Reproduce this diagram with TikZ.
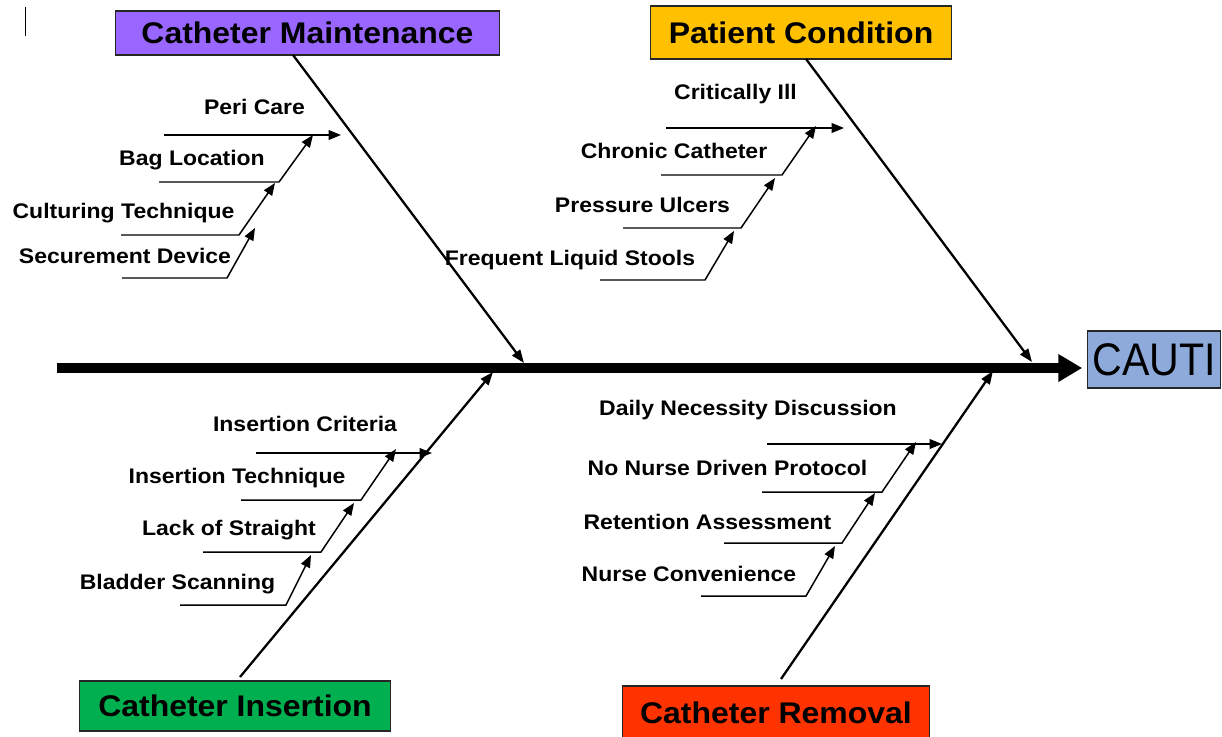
\documentclass[tikz,border=0pt]{standalone}
\usepackage{fontspec}
\setmainfont{Liberation Sans}
\newfontfamily\lblfont[FakeStretch=1.09]{Liberation Sans}
\newfontfamily\ttlfont[FakeStretch=1.07]{Liberation Sans}
\newfontfamily\cautifont[FakeStretch=0.9]{Liberation Sans}
\usetikzlibrary{arrows.meta}
\definecolor{cmpurple}{RGB}{153,102,255}
\definecolor{pcamber}{RGB}{255,192,0}
\definecolor{cigreen}{RGB}{0,176,80}
\definecolor{crred}{RGB}{255,51,0}
\definecolor{cblue}{RGB}{142,170,219}
\begin{document}
\begin{tikzpicture}[x=0.02cm,y=-0.02cm,
  catbox/.style={draw=black!85,line width=0.8pt,inner sep=0pt,
    font=\ttlfont\bfseries\fontsize{17}{19}\selectfont},
  lbl/.style={anchor=base,inner sep=0pt,font=\lblfont\bfseries\fontsize{12}{14}\selectfont},
  bone/.style={line width=1.3pt,-{Triangle[length=7.5pt,width=5.5pt]}},
  subbone/.style={line width=0.85pt,-{Triangle[length=7pt,width=5.5pt]}},
  spine/.style={line width=5.2pt,-{Triangle[length=13.6pt,width=15pt]}}
]
\useasboundingbox (0,0) rectangle (1222,736);
\begin{scope}
\clip (0,0) rectangle (1222,736);

% stray mark
\coordinate (mk1) at (25.5,7);
\coordinate (mk2) at (25.5,36);
\draw[line width=0.6pt] (mk1) -- (mk2);

% boxes
\node[catbox,fill=cmpurple,minimum width=385*0.567pt,minimum height=44*0.567pt] (cm) at (307.5,33) {Catheter Maintenance};
\node[catbox,fill=pcamber,minimum width=302*0.567pt,minimum height=53*0.567pt] (pc) at (801,32.5) {Patient Condition};
\node[catbox,fill=cigreen,minimum width=312*0.567pt,minimum height=50*0.567pt] (ci) at (235,706) {Catheter Insertion};
\node[catbox,fill=crred,minimum width=308*0.567pt,minimum height=54*0.567pt] (cr) at (776,713) {Catheter Removal};
\node[draw=black!85,line width=0.8pt,fill=cblue,inner sep=0pt,minimum width=133*0.567pt,minimum height=57*0.567pt,
  font=\cautifont\fontsize{26}{28}\selectfont] (cauti) at (1154,359.5) {CAUTI};

% spine
\coordinate (spinestart) at (57,368);
\draw[spine] (spinestart) -- (spinestart -| cauti.west) [shorten >=2.8pt];

% main bones
\coordinate (cmstart) at (293,55);  \coordinate (cmtip) at (524,363);
\coordinate (pcstart) at (806,59);  \coordinate (pctip) at (1032,362);
\coordinate (cistart) at (240,677); \coordinate (citip) at (493,372);
\coordinate (crstart) at (781,679); \coordinate (crtip) at (993,371);
\draw[bone] (cmstart) -- (cmtip);
\draw[bone] (pcstart) -- (pctip);
\draw[bone] (cistart) -- (citip);
\draw[bone] (crstart) -- (crtip);

% ---- Catheter Maintenance causes
\node[lbl] (peri) at (254.5,115) {Peri Care};
\node[lbl] (bag) at (192,166) {Bag Location};
\node[lbl] (cult) at (123.5,219) {Culturing Technique};
\node[lbl] (secu) at (125,263) {Securement Device};
\coordinate (peri-l) at (164,135); \coordinate (peri-r) at (341,135);
\coordinate (bag-l) at (159,182); \coordinate (bag-b) at (279,182); \coordinate (bag-t) at (313,135);
\coordinate (cult-l) at (121,235); \coordinate (cult-b) at (239,235); \coordinate (cult-t) at (275,183);
\coordinate (secu-l) at (122,278); \coordinate (secu-b) at (227,278); \coordinate (secu-t) at (255,228);
\draw[subbone] (peri-l) -- (peri-r);
\draw[subbone] (bag-l) -- (bag-b) -- (bag-t);
\draw[subbone] (cult-l) -- (cult-b) -- (cult-t);
\draw[subbone] (secu-l) -- (secu-b) -- (secu-t);

% ---- Patient Condition causes
\node[lbl] (crit) at (735.5,100) {Critically Ill};
\node[lbl] (chron) at (674,159) {Chronic Catheter};
\node[lbl] (press) at (642.5,213) {Pressure Ulcers};
\node[lbl] (freq) at (570,265) {Frequent Liquid Stools};
\coordinate (crit-l) at (666,128); \coordinate (crit-r) at (844,128);
\coordinate (chron-l) at (661,175); \coordinate (chron-b) at (782,175); \coordinate (chron-t) at (816,126);
\coordinate (press-l) at (623,228); \coordinate (press-b) at (741,228); \coordinate (press-t) at (775,178);
\coordinate (freq-l) at (600,280); \coordinate (freq-b) at (705,280); \coordinate (freq-t) at (734,231);
\draw[subbone] (crit-l) -- (crit-r);
\draw[subbone] (chron-l) -- (chron-b) -- (chron-t);
\draw[subbone] (press-l) -- (press-b) -- (press-t);
\draw[subbone] (freq-l) -- (freq-b) -- (freq-t);

% ---- Catheter Insertion causes
\node[lbl] (icrit) at (305,431) {Insertion Criteria};
\node[lbl] (itech) at (237,483) {Insertion Technique};
\node[lbl] (lack) at (229,535) {Lack of Straight};
\node[lbl] (blad) at (177.5,589) {Bladder Scanning};
\coordinate (icrit-l) at (256,453); \coordinate (icrit-r) at (432,453);
\coordinate (itech-l) at (241,500); \coordinate (itech-b) at (361,500); \coordinate (itech-t) at (396,449);
\coordinate (lack-l) at (203,552); \coordinate (lack-b) at (321,552); \coordinate (lack-t) at (354,503);
\coordinate (blad-l) at (180,605); \coordinate (blad-b) at (286,605); \coordinate (blad-t) at (311,555);
\draw[subbone] (icrit-l) -- (icrit-r);
\draw[subbone] (itech-l) -- (itech-b) -- (itech-t);
\draw[subbone] (lack-l) -- (lack-b) -- (lack-t);
\draw[subbone] (blad-l) -- (blad-b) -- (blad-t);

% ---- Catheter Removal causes
\node[lbl] (daily) at (748,415) {Daily Necessity Discussion};
\node[lbl] (nnd) at (727.5,475) {No Nurse Driven Protocol};
\node[lbl] (ret) at (707.5,529) {Retention Assessment};
\node[lbl] (conv) at (689,581) {Nurse Convenience};
\coordinate (daily-l) at (767,444); \coordinate (daily-r) at (942,444);
\coordinate (nnd-l) at (762,492); \coordinate (nnd-b) at (882,492); \coordinate (nnd-t) at (916,442);
\coordinate (ret-l) at (724,543); \coordinate (ret-b) at (842,543); \coordinate (ret-t) at (875,493);
\coordinate (conv-l) at (701,596); \coordinate (conv-b) at (806,596); \coordinate (conv-t) at (835,546);
\draw[subbone] (daily-l) -- (daily-r);
\draw[subbone] (nnd-l) -- (nnd-b) -- (nnd-t);
\draw[subbone] (ret-l) -- (ret-b) -- (ret-t);
\draw[subbone] (conv-l) -- (conv-b) -- (conv-t);
\end{scope}
\end{tikzpicture}
\end{document}
